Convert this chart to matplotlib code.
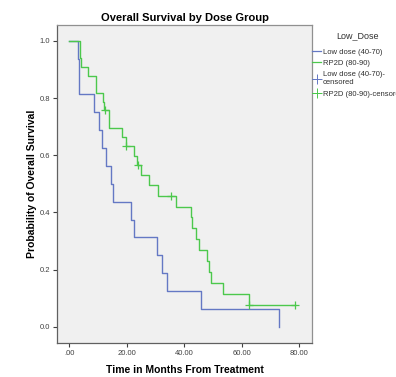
import numpy as np
import matplotlib.pyplot as plt
from matplotlib.lines import Line2D

# event times (months) and event flags (1 = death, 0 = censored)
low_times = [3.0, 3.4, 3.4, 8.6, 10.2, 11.3, 12.7, 14.5, 15.1, 21.4, 22.6,
             30.4, 32.2, 34.0, 45.8, 73.0]
low_events = [1] * 16

rp2d_times = [3.7, 3.7, 4.2, 6.6, 9.3, 9.3, 11.6, 12.2, 12.5, 13.9, 13.9,
              18.4, 19.7, 19.8, 22.6, 23.4, 23.8, 24.8, 27.7, 30.7, 35.3,
              37.1, 42.2, 42.8, 44.0, 45.2, 48.0, 48.5, 49.2, 53.4, 62.5,
              62.6, 78.4]
rp2d_events = [1, 1, 1, 1, 1, 1, 1, 1, 0, 1, 1,
               1, 1, 0, 1, 1, 0, 1, 1, 1, 0,
               1, 1, 1, 1, 1, 1, 1, 1, 1, 1,
               0, 0]

group_labels = ['Low dose (40-70)', 'RP2D (80-90)']
x_ticks = [0, 20, 40, 60, 80]
x_ticklabels = ['.00', '20.00', '40.00', '60.00', '80.00']
y_ticks = [0.0, 0.2, 0.4, 0.6, 0.8, 1.0]
y_ticklabels = ['0.0', '0.2', '0.4', '0.6', '0.8', '1.0']

BLUE = '#6478c4'
GREEN = '#4cc84c'


def kaplan_meier(times, events):
    times = np.asarray(times, float)
    events = np.asarray(events, int)
    order = np.argsort(times, kind='stable')
    times, events = times[order], events[order]
    xs, ys = [0.0], [1.0]
    cens_x, cens_y = [], []
    s = 1.0
    n = len(times)
    for t in np.unique(times):
        mask = times == t
        d = events[mask].sum()
        c = mask.sum() - d
        if d:
            s *= (n - d) / n
            xs.append(t)
            ys.append(s)
        if c:
            cens_x.append(t)
            cens_y.append(s)
        n -= mask.sum()
    if times[-1] > xs[-1]:
        xs.append(times[-1])
        ys.append(s)
    return xs, ys, cens_x, cens_y


plt.rcParams['font.family'] = ['Liberation Sans Narrow', 'Liberation Sans', 'DejaVu Sans']

fig = plt.figure(figsize=(3.96, 3.77), dpi=100)
ax = fig.add_axes([0.144, 0.090, 0.644, 0.844])
ax.set_facecolor('#f0f0f0')

for (times, events), color in zip([(low_times, low_events), (rp2d_times, rp2d_events)],
                                  [BLUE, GREEN]):
    xs, ys, cx, cy = kaplan_meier(times, events)
    ax.step(xs, ys, where='post', color=color, lw=1.0)
    if cx:
        ax.plot(cx, cy, ls='none', marker='+', color=color, ms=6, mew=0.9)

ax.set_xlim(-4.3, 84.4)
ax.set_ylim(-0.057, 1.056)
ax.set_xticks(x_ticks)
ax.set_xticklabels(x_ticklabels)
ax.set_yticks(y_ticks)
ax.set_yticklabels(y_ticklabels)
ax.tick_params(labelsize=5.5, colors='#404040', length=3, width=0.8, pad=2)

for side in ['top', 'right']:
    ax.spines[side].set_color('#909090')
for side in ['left', 'bottom']:
    ax.spines[side].set_color('#606060')
for sp in ax.spines.values():
    sp.set_linewidth(0.9)

ax.set_title('Overall Survival by Dose Group', fontsize=8, fontweight='bold', pad=3)
ax.set_xlabel('Time in Months From Treatment', fontsize=7.5, fontweight='bold', labelpad=6)
ax.set_ylabel('Probability of Overall Survival', fontsize=7.5, fontweight='bold', labelpad=2)

handles = [
    Line2D([0], [0], color=BLUE, lw=0.9),
    Line2D([0], [0], color=GREEN, lw=0.9),
    Line2D([0], [0], color=BLUE, lw=0.7, marker='+', ms=7, mew=0.7),
    Line2D([0], [0], color=GREEN, lw=0.7, marker='+', ms=7, mew=0.7),
]
labels = [group_labels[0], group_labels[1],
          group_labels[0] + '-\ncensored', group_labels[1] + '-censored']
leg = fig.legend(handles, labels, title='Low_Dose', loc='upper left',
                 bbox_to_anchor=(0.788, 0.918), frameon=False, fontsize=5.5,
                 title_fontsize=6.5, handlelength=1.2, handletextpad=0.2,
                 labelspacing=0.55, borderaxespad=0, borderpad=0)
leg._legend_box.sep = 6
for t in leg.get_texts():
    t.set_color('#303030')
leg.get_title().set_color('#303030')

fig.savefig('out.png', dpi=100)
